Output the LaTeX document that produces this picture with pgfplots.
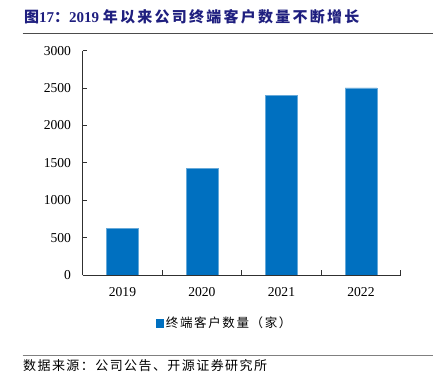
\documentclass[border=0pt]{standalone}
\usepackage{pgfplots}
\pgfplotsset{compat=1.18}
\usepackage{fontspec}
\setmainfont{Liberation Serif}
\newfontfamily\cjk{Noto Sans CJK SC}
\newfontfamily\cjkt{Noto Sans CJK SC}[LetterSpace=15]
\newfontfamily\cjks{Noto Sans CJK SC}[LetterSpace=11]
\newfontfamily\cjkl{Noto Sans CJK SC}[LetterSpace=13]
\definecolor{barblue}{HTML}{0070C0}
\definecolor{titleblue}{HTML}{1F1F7F}
\definecolor{axisgray}{HTML}{303030}
\begin{document}
\begin{tikzpicture}
\useasboundingbox (0,0) rectangle (440pt,-390pt);
\node[anchor=west, text=titleblue, inner sep=0pt] at (24pt,-16.5pt)
  {\fontsize{15}{15}\selectfont{\cjkt\bfseries 图}{\bfseries 17}{\cjkt\bfseries ：}{\bfseries 2019 }{\cjkt\bfseries 年以来公司终端客户数量不断增长}};
\draw[color=black!70, line width=1pt] (22.7pt,-33.5pt) -- (433pt,-33.5pt);
\begin{axis}[
  at={(82.7pt,-275pt)}, anchor=south west,
  scale only axis, width=318pt, height=224.3pt,
  xmin=-0.5, xmax=3.5, ymin=0, ymax=3000,
  axis x line*=bottom, axis y line*=left,
  axis line style={-, draw=axisgray, line width=0.9pt},
  xtick={-0.5,0.5,1.5,2.5,3.5}, x tick label as interval,
  xticklabels={2019,2020,2021,2022},
  ytick={0,500,1000,1500,2000,2500,3000},
  tick align=inside, major tick length=4.5pt,
  tick style={draw=axisgray, line width=0.8pt},
  /pgf/number format/assume math mode=true,
  /pgf/number format/1000 sep={},
  ticklabel style={font=\fontsize{13.6}{13.6}\selectfont},
  yticklabel style={anchor=east, inner sep=0pt, xshift=-11.5pt},
  xticklabel style={anchor=base, inner sep=0pt, yshift=-22pt},
  legend style={at={(0.447,-0.2153)}, anchor=center, draw=none, fill=none,
    inner sep=0pt, font=\fontsize{12.5}{12.5}\selectfont,
    nodes={inner xsep=2pt}},
  legend image code/.code={\fill[barblue] (0pt,-3.65pt) rectangle (7.3pt,3.65pt);},
]
\addplot[ybar, bar width=31.6pt, fill=barblue, draw=barblue!60!white, line width=0.5pt]
  coordinates {(0,625) (1,1423) (2,2406) (3,2503)};
\addlegendentry{\cjkl 终端客户数量（家）}
\end{axis}
\draw[color=black!50, line width=1pt] (22.7pt,-355.3pt) -- (433pt,-355.3pt);
\node[anchor=west, inner sep=0pt] at (23pt,-366pt)
  {\fontsize{13}{13}\selectfont\cjks 数据来源：公司公告、开源证券研究所};
\end{tikzpicture}
\end{document}
